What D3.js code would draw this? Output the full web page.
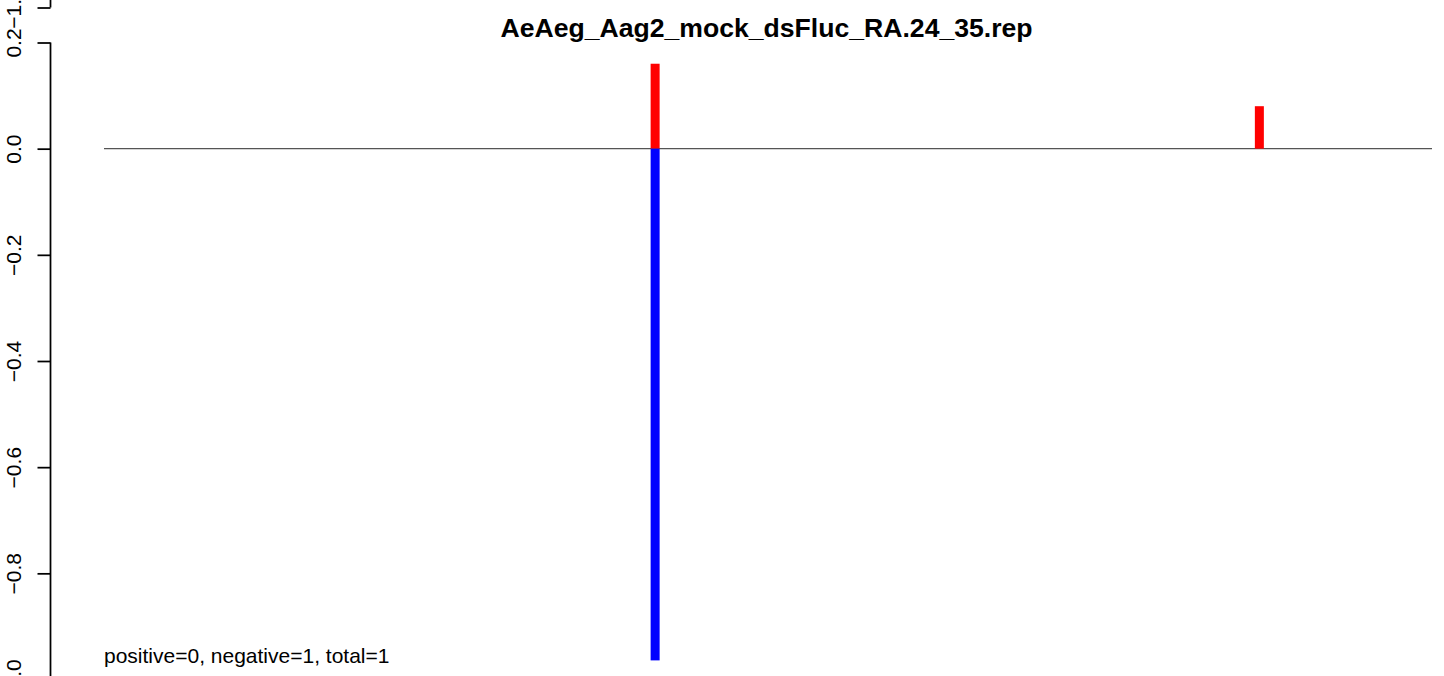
<!DOCTYPE html>
<html>
<head>
<meta charset="utf-8">
<script src="https://cdn.jsdelivr.net/npm/d3@7"></script>
<style>
  html, body { margin: 0; padding: 0; background: #fff; }
  svg { display: block; font-family: "Liberation Sans", Arial, Helvetica, sans-serif; }
</style>
</head>
<body>
<svg id="chart" width="1444" height="676"></svg>
<script>
// ---- data ----
const title = "AeAeg_Aag2_mock_dsFluc_RA.24_35.rep";
const positions = [415, 870];           // positions along the sequence
const positiveValues = [0.16, 0.08];    // red bars (above zero)
const negativeValues = [-0.964, 0];     // blue bars (below zero)
const yTicks = [0.2, 0.0, -0.2, -0.4, -0.6, -0.8, -1.0];
const prevPanelTicks = [-1.0];          // bottom tick of the panel above (cut off)
const xDomain = [0, 1000];
const summaryText = "positive=0, negative=1, total=1";

// ---- layout ----
const W = 1444, H = 676;
const svg = d3.select("#chart");
const baseFont = 21;

const x = d3.scaleLinear().domain(xDomain).range([104, 1432]);
const y = d3.scaleLinear().domain([0.2, -1.0]).range([42.5, 679.5]);
const barW = 9;

// title
svg.append("text")
  .attr("x", 766.5).attr("y", 37)
  .attr("text-anchor", "middle")
  .attr("font-weight", "bold")
  .attr("font-size", 26.6)
  .text(title);

// zero line
svg.append("line")
  .attr("x1", x(xDomain[0])).attr("x2", x(xDomain[1]))
  .attr("y1", y(0)).attr("y2", y(0))
  .attr("stroke", "#555").attr("stroke-width", 1.3);

// positive bars
svg.append("g").selectAll("rect").data(positions.map((p, i) => ({p, v: positiveValues[i]})).filter(d => d.v > 0))
  .join("rect")
  .attr("x", d => x(d.p) - barW / 2)
  .attr("width", barW)
  .attr("y", d => y(d.v))
  .attr("height", d => y(0) - y(d.v))
  .attr("fill", "#ff0000");

// negative bars
svg.append("g").selectAll("rect").data(positions.map((p, i) => ({p, v: negativeValues[i]})).filter(d => d.v < 0))
  .join("rect")
  .attr("x", d => x(d.p) - barW / 2)
  .attr("width", barW)
  .attr("y", y(0))
  .attr("height", d => y(d.v) - y(0))
  .attr("fill", "#0000ff");

// y axis
const fmt = d3.format(".1f");
function drawAxis(scale, ticks, extent) {
  const g = svg.append("g").attr("transform", "translate(50.5,0)");
  const ax = d3.axisLeft(scale).tickValues(ticks).tickFormat(fmt).tickSize(13).tickSizeOuter(0);
  g.call(ax);
  g.select(".domain").remove();
  g.append("line").attr("x1", 0).attr("x2", 0)
    .attr("y1", extent[0]).attr("y2", extent[1])
    .attr("stroke", "#000").attr("stroke-width", 1.75);
  g.selectAll(".tick line").attr("stroke", "#000").attr("stroke-width", 1.75);
  g.selectAll(".tick text")
    .attr("font-size", baseFont)
    .attr("font-family", "\"Liberation Sans\", Arial, Helvetica, sans-serif")
    .attr("fill", "#000")
    .attr("transform", "rotate(-90)")
    .attr("x", 0).attr("y", -30)
    .attr("dy", 0)
    .attr("text-anchor", "middle");
}
drawAxis(y, yTicks, [y(0.2), y(-1.0)]);

// fragment of the panel above
const yPrev = d3.scaleLinear().domain([-1.0, -0.8]).range([7.5, 7.5 - 106.2]);
drawAxis(yPrev, prevPanelTicks, [0, yPrev(-1.0)]);

// summary text
svg.append("text")
  .attr("x", 104).attr("y", 663)
  .attr("font-size", baseFont)
  .text(summaryText);
</script>
</body>
</html>
